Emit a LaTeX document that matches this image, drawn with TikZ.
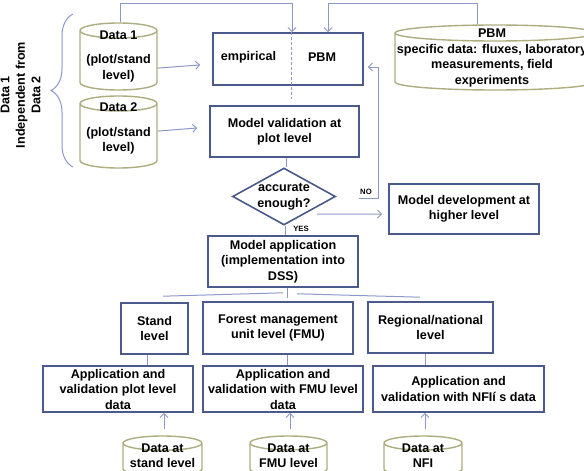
\documentclass[tikz,border=0pt]{standalone}
\usepackage{fontspec}
\setmainfont{Liberation Sans}
\usetikzlibrary{shapes.geometric,arrows.meta,decorations.pathreplacing,calc}
\definecolor{boxblue}{HTML}{4B5A8A}
\definecolor{arrowblue}{HTML}{8C98C8}
\definecolor{cylolive}{HTML}{ADAD80}
\tikzset{
  box/.style={draw=boxblue, line width=1.6pt, fill=white, inner sep=0pt, align=center},
  datacyl/.style={cylinder, shape border rotate=90, draw=cylolive, line width=1.4pt, fill=white, inner sep=0pt, anchor=shape center, text width=#1},
  cyltext/.style={align=center, inner sep=0pt},
  conn/.style={draw=arrowblue, line width=1pt},
  arr/.style={conn, -{Straight Barb[length=4pt,width=8pt]}},
  lab/.style={inner sep=0pt, font=\fontsize{7.7}{9}\selectfont\bfseries},
}
\begin{document}
\begin{tikzpicture}[x=1pt, y=-1pt, font=\fontsize{12.6}{15.5}\selectfont\bfseries]
\useasboundingbox (0,0) rectangle (584,471);
% data on the left
\node[datacyl=77pt, aspect=0.195, minimum height=67pt] (data1) at (118.5,56.5) {};
\node[cyltext] (data1txt) at (118.5,56) {Data 1\\[9pt](plot/stand\\level)};
\node[datacyl=77pt, aspect=0.195, minimum height=72pt] (data2) at (118.5,132) {};
\node[cyltext] (data2txt) at (118.5,128.5) {Data 2\\[9pt](plot/stand\\level)};
\node[datacyl=200pt, aspect=0.08, minimum height=65pt] (pbmdata) at (495,57.5) {};
\node[cyltext] (pbmtxt) at (492,58) {PBM\\specific data: fluxes, laboratory\\measurements, field\\experiments};
\draw[arrowblue, line width=1pt, decorate, decoration={brace, amplitude=22pt}] (73,167) -- (73,14);
\node[rotate=90, align=center] (indep) at (20.5,95) {Data 1\\Independent from\\Data 2};
% model boxes
\node[box, minimum width=150pt, minimum height=52pt] (model) at (288,59) {};
\node (emp) at (248.5,57) {empirical};
\node (pbm) at (322,57) {PBM};
\draw[conn, line width=0.8pt, dash pattern=on 3pt off 2pt] ([xshift=3.5pt]model.north) -- ++(0,67);
\node[box, minimum width=149pt, minimum height=51pt] (valid) at (284.5,131.5) {Model validation at\\plot level};
\node[diamond, draw=boxblue, line width=1.6pt, fill=white, inner sep=0pt, aspect=1.8, minimum width=103pt, minimum height=57pt, align=center] (dia) at (284,196.5) {accurate\\enough?};
\node[box, minimum width=150pt, minimum height=50pt] (dev) at (464,209) {Model development at\\higher level};
\node[box, minimum width=150pt, minimum height=51pt] (app) at (283,261.5) {Model application\\(implementation into\\DSS)};
\node[lab] (no) at (366,192) {NO};
\node[lab] (yes) at (301,229) {YES};
% levels
\node[box, minimum width=67pt, minimum height=51pt] (stand) at (154.5,328.5) {Stand\\level};
\node[box, minimum width=150pt, minimum height=52pt] (fmu) at (278,328) {Forest management\\unit level (FMU)};
\node[box, minimum width=125pt, minimum height=51pt] (region) at (430.5,327.5) {Regional/national\\level};
\node[box, minimum width=150pt, minimum height=46pt] (appstand) at (118,389) {Application and\\validation plot level\\data};
\node[box, minimum width=160pt, minimum height=46pt] (appfmu) at (283,389) {Application and\\validation with FMU level\\data};
\node[box, minimum width=171pt, minimum height=46pt] (appnfi) at (458.5,389) {Application and\\validation with NFIí s data};
\node[datacyl=79pt, aspect=0.18, minimum height=40pt] (datastand) at (162.5,456) {};
\node[cyltext] (datastandtxt) at (162.5,455.5) {Data at\\stand level};
\node[datacyl=77pt, aspect=0.18, minimum height=40pt] (datafmu) at (288.5,456) {};
\node[cyltext] (datafmutxt) at (288.5,455.5) {Data at\\FMU level};
\node[datacyl=78pt, aspect=0.18, minimum height=40pt] (datanfi) at (423,456) {};
\node[cyltext] (datanfitxt) at (423,455.5) {Data at\\NFI};
% connectors
\draw[arr, shorten >=12pt] ([yshift=-7.5pt]data1.east) -- ([yshift=-5pt]model.west);
\draw[arr, shorten >=12pt] ([yshift=5pt]data2.east) -- ([yshift=4.5pt]valid.west);
\draw[arr] ([xshift=2pt]data1.north) -- ++(0,-19) -| ([xshift=4pt]model.north);
\draw[arr] ([xshift=-18pt]pbmdata.north) -- ++(0,-21) -| ([xshift=40pt]model.north);
\draw[conn] ([xshift=1.5pt]valid.south) -- ([xshift=1.5pt]valid.south |- dia.north);
\draw[arr, shorten >=4pt] ([xshift=23pt,yshift=-1.5pt]dia.east) -- ++(19,0) |- ([yshift=-8pt]model.east);
\draw[arr, shorten >=6pt] ([xshift=7pt,yshift=-3pt]dia.south east) -- ([yshift=-5pt]dev.west);
\draw[conn] ([xshift=1pt]dia.south) -- ([xshift=1pt]dia.south |- app.north);
\coordinate (fanmid) at ($(app.south)+(4,10)$);
\coordinate (fanl) at ($(stand.north)+(8.5,-6)$);
\coordinate (fanr) at ($(region.north)+(-10.5,-4)$);
\draw[conn] ([xshift=4pt]app.south) -- (fanmid);
\draw[conn] (fanl) -- ($(fanmid)+(-4,-5)$);
\draw[conn] ($(fanmid)+(10,-4)$) -- (fanr);
\draw[conn] ([xshift=-7.5pt]stand.south) -- ([xshift=-7.5pt]stand.south |- appstand.north);
\draw[conn] ([xshift=9pt]fmu.south) -- ([xshift=9pt]fmu.south |- appfmu.north);
\draw[conn] ([xshift=-5.5pt]region.south) -- ([xshift=-5.5pt]region.south |- appnfi.north);
\draw[arr, shorten <=6pt] ([xshift=1.5pt]datastand.north) -- ([xshift=1.5pt]datastand.north |- appstand.south);
\draw[arr, shorten <=6pt] ([xshift=1.5pt]datafmu.north) -- ([xshift=1.5pt]datafmu.north |- appfmu.south);
\draw[arr, shorten <=6pt] ([xshift=2pt]datanfi.north) -- ([xshift=2pt]datanfi.north |- appnfi.south);
\end{tikzpicture}
\end{document}
